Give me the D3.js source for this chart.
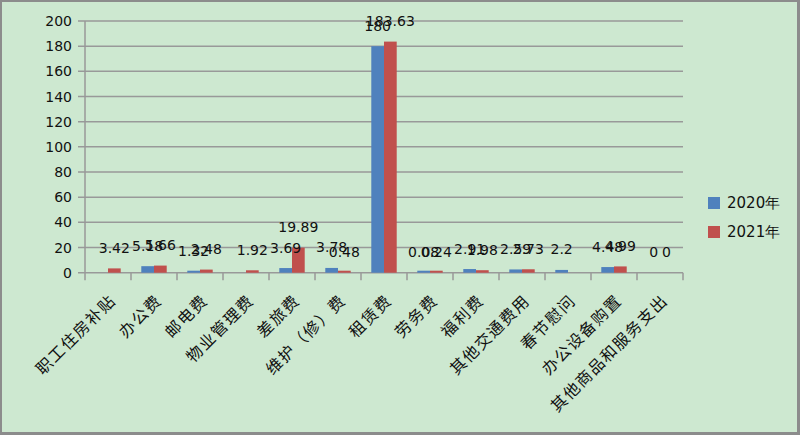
<!DOCTYPE html>
<html>
<head>
<meta charset="utf-8">
<script src="https://cdn.jsdelivr.net/npm/d3@7/dist/d3.min.js"></script>
<style>
  html, body { margin: 0; padding: 0; background: #fff; }
  svg { display: block; }
</style>
</head>
<body>
<svg id="chart" width="800" height="435"></svg>
<script>
const categories = ["职工住房补贴", "办公费", "邮电费", "物业管理费", "差旅费", "维护（修）费", "租赁费", "劳务费", "福利费", "其他交通费用", "春节慰问", "办公设备购置", "其他商品和服务支出"];
const series2020 = [null, 5.18, 1.32, null, 3.69, 3.78, 180, 0.08, 2.91, 2.59, 2.2, 4.48, 0];
const series2021 = [3.42, 5.66, 2.48, 1.92, 19.89, 0.48, 183.63, 0.24, 1.98, 2.73, null, 4.99, 0];
const seriesNames = ["2020年", "2021年"];
const yTicks = [0, 20, 40, 60, 80, 100, 120, 140, 160, 180, 200];

const colors = ["#4f81bd", "#c0504d"];
const W = 800, H = 435;
const plotLeft = 85, plotRight = 683, plotTop = 21, plotBottom = 272.7;

const svg = d3.select("#chart");
svg.append("rect").attr("x", 1).attr("y", 1).attr("width", W - 3).attr("height", H - 3)
  .attr("fill", "#cde8d0").attr("stroke", "#8c8c8c").attr("stroke-width", 2);
svg.append("line").attr("x1", W - 1.5).attr("x2", W - 1.5).attr("y1", 0).attr("y2", H).attr("stroke", "#8c8c8c").attr("stroke-width", 3);
svg.append("line").attr("x1", 0).attr("x2", W).attr("y1", H - 1.5).attr("y2", H - 1.5).attr("stroke", "#8c8c8c").attr("stroke-width", 3);

const x = d3.scaleBand().domain(categories).range([plotLeft, plotRight]).paddingInner(0).paddingOuter(0);
const x1 = d3.scaleBand().domain(seriesNames).range([0, x.bandwidth()]).paddingInner(0).paddingOuter(0.81);
const y = d3.scaleLinear().domain([0, 200]).range([plotBottom, plotTop]);

const numFont = "'DejaVu Sans', Verdana, sans-serif";
const cjkFont = "'Noto Sans CJK SC', 'DejaVu Sans', sans-serif";

// gridlines
svg.append("g").selectAll("line").data(yTicks).join("line")
  .attr("x1", plotLeft - 7).attr("x2", plotRight)
  .attr("y1", d => y(d)).attr("y2", d => y(d))
  .attr("stroke", "#999").attr("stroke-width", 1.5);

// y axis line
svg.append("line").attr("x1", plotLeft).attr("x2", plotLeft).attr("y1", plotTop).attr("y2", plotBottom)
  .attr("stroke", "#999").attr("stroke-width", 1.5);

// y tick labels
svg.append("g").selectAll("text").data(yTicks).join("text")
  .attr("x", 72).attr("y", d => y(d)).attr("dy", "0.36em")
  .attr("text-anchor", "end").attr("font-family", numFont).attr("font-size", 14)
  .attr("fill", "#111").text(d => d);

// x ticks at band boundaries
const bounds = categories.map(c => x(c)).concat([plotRight]);
svg.append("g").selectAll("line").data(bounds).join("line")
  .attr("x1", d => d).attr("x2", d => d).attr("y1", plotBottom).attr("y2", plotBottom + 7.5)
  .attr("stroke", "#999").attr("stroke-width", 1.5);

// bars
const data = [series2020, series2021];
data.forEach((vals, si) => {
  const g = svg.append("g");
  const items = vals.map((v, i) => ({ v, c: categories[i] })).filter(d => d.v !== null && d.v !== 0);
  g.selectAll("rect").data(items).join("rect")
    .attr("x", d => x(d.c) + x1(seriesNames[si]))
    .attr("width", x1.bandwidth())
    .attr("y", d => Math.min(y(d.v), plotBottom - 2))
    .attr("height", d => Math.max(plotBottom - y(d.v), 2))
    .attr("fill", colors[si]);
});

// data labels
data.forEach((vals, si) => {
  const items = vals.map((v, i) => ({ v, c: categories[i] })).filter(d => d.v !== null);
  svg.append("g").selectAll("text").data(items).join("text")
    .attr("x", d => x(d.c) + x1(seriesNames[si]) + x1.bandwidth() / 2)
    .attr("y", d => y(d.v) - 15.5)
    .attr("text-anchor", "middle").attr("font-family", numFont).attr("font-size", 14)
    .attr("fill", "#111").text(d => d.v);
});

// x labels rotated
svg.append("g").selectAll("text").data(categories).join("text")
  .attr("transform", d => `translate(${x(d) + x.bandwidth() / 2 + 9},${301.5}) rotate(-45)`)
  .attr("text-anchor", "end").attr("font-family", cjkFont).attr("font-size", 16)
  .attr("letter-spacing", "1.5px").attr("fill", "#111").text(d => d);

// legend
const lg = svg.append("g");
seriesNames.forEach((n, i) => {
  lg.append("rect").attr("x", 708).attr("y", 197 + i * 29).attr("width", 12).attr("height", 12).attr("fill", colors[i]);
  lg.append("text").attr("x", 727).attr("y", 203 + i * 29).attr("dy", "0.36em")
    .attr("font-family", numFont).attr("font-size", 15).attr("fill", "#111").text(n);
});
</script>
</body>
</html>
